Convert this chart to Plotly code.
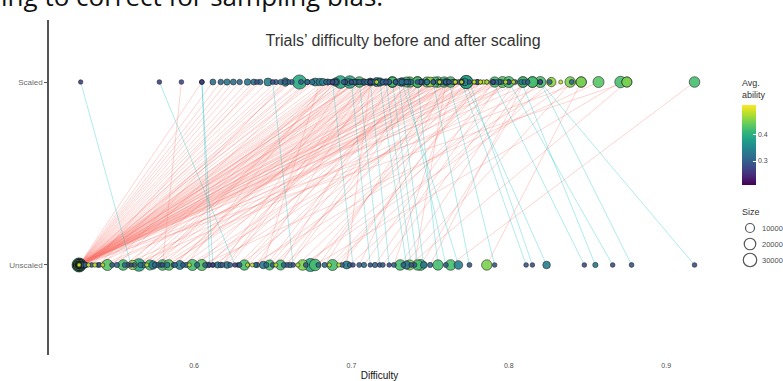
import plotly.graph_objects as go

# ---------------- data (one entry per trial) ----------------
unscaled = [
    # trials at the minimum unscaled difficulty (fan)
    0.527, 0.527, 0.527, 0.527, 0.527, 0.527, 0.527, 0.527, 0.527, 0.527,
    0.527, 0.527, 0.527, 0.527, 0.527, 0.527, 0.527, 0.527, 0.527, 0.527,
    0.527, 0.527, 0.527, 0.527, 0.527, 0.527, 0.527, 0.527, 0.527, 0.527,
    0.527, 0.527, 0.527, 0.527, 0.527, 0.527, 0.527, 0.527, 0.527, 0.527,
    0.527, 0.527, 0.527, 0.527, 0.527, 0.527,
    0.527, 0.527, 0.527, 0.527, 0.527, 0.527, 0.527, 0.527, 0.527, 0.527,
    0.529, 0.529, 0.529, 0.529, 0.529, 0.529, 0.530, 0.530, 0.530, 0.531, 0.531, 0.531,
    0.533, 0.535, 0.537, 0.539, 0.542, 0.540,
    0.545, 0.555, 0.561, 0.565, 0.572, 0.574, 0.580, 0.584, 0.591, 0.599,
    0.605, 0.615, 0.621, 0.626, 0.632, 0.637, 0.644, 0.648, 0.655, 0.663,
    0.669, 0.674, 0.677, 0.688, 0.697, 0.701, 0.712, 0.718, 0.724, 0.731,
    0.735, 0.737, 0.744, 0.755, 0.763, 0.768, 0.775, 0.786, 0.791, 0.811,
    0.815, 0.824, 0.848, 0.855, 0.866, 0.878, 0.918,
    0.560, 0.580, 0.610, 0.612,
    0.548, 0.551, 0.558, 0.568, 0.577, 0.587, 0.595, 0.609, 0.618, 0.628,
    0.640, 0.652, 0.659, 0.666, 0.683, 0.692, 0.705, 0.715, 0.727, 0.740,
    0.750, 0.760, 0.742, 0.746, 0.738,
    0.556, 0.562, 0.566, 0.570, 0.575, 0.579, 0.583, 0.588, 0.593, 0.597,
    0.602, 0.607, 0.612, 0.617, 0.623, 0.629, 0.634, 0.639, 0.646, 0.650,
    0.657, 0.661, 0.671, 0.679, 0.686, 0.694, 0.699, 0.708, 0.720, 0.733,
]
scaled = [
    0.612, 0.617, 0.621, 0.625, 0.629, 0.634, 0.638, 0.642, 0.647, 0.652,
    0.658, 0.667, 0.672, 0.677, 0.682, 0.688, 0.693, 0.698, 0.705, 0.712,
    0.715, 0.718, 0.726, 0.732, 0.742, 0.750, 0.753, 0.759, 0.766, 0.773,
    0.782, 0.786, 0.791, 0.809, 0.846, 0.875, 0.700, 0.708, 0.736, 0.745,
    0.662, 0.690, 0.722, 0.760, 0.778, 0.605,
    0.696, 0.704, 0.714, 0.724, 0.734, 0.744, 0.756, 0.768, 0.780, 0.794,
    0.655, 0.675, 0.710, 0.728, 0.748, 0.765, 0.685, 0.703, 0.738, 0.755, 0.668, 0.720,
    0.770, 0.640, 0.784, 0.660, 0.803, 0.695,
    0.796, 0.815, 0.827, 0.699, 0.735, 0.690, 0.763, 0.755, 0.716, 0.800,
    0.857, 0.720, 0.708, 0.578, 0.737, 0.833, 0.680, 0.748, 0.726, 0.650,
    0.839, 0.773, 0.871, 0.820, 0.712, 0.688, 0.700, 0.705, 0.712, 0.809,
    0.718, 0.875, 0.815, 0.742, 0.918, 0.732, 0.752, 0.846, 0.762, 0.770,
    0.775, 0.772, 0.790, 0.808, 0.800, 0.820, 0.820,
    0.528, 0.592, 0.605, 0.605,
    0.658, 0.672, 0.686, 0.702, 0.690, 0.712, 0.684, 0.732, 0.696, 0.742,
    0.713, 0.766, 0.744, 0.786, 0.757, 0.782, 0.760, 0.795, 0.766, 0.760,
    0.810, 0.735, 0.726, 0.730, 0.722,
    0.702, 0.688, 0.744, 0.716, 0.760, 0.728, 0.770, 0.706, 0.752, 0.778,
    0.724, 0.762, 0.790, 0.745, 0.712, 0.780, 0.756, 0.800, 0.736, 0.770,
    0.792, 0.748, 0.812, 0.764, 0.798, 0.780, 0.826, 0.790, 0.804, 0.840,
]
ability = [
    0.32, 0.31, 0.33, 0.32, 0.31, 0.33, 0.32, 0.31, 0.34, 0.30,
    0.34, 0.39, 0.30, 0.34, 0.34, 0.32, 0.39, 0.34, 0.42, 0.33,
    0.32, 0.33, 0.42, 0.34, 0.42, 0.46, 0.42, 0.42, 0.48, 0.37,
    0.48, 0.47, 0.42, 0.42, 0.42, 0.43, 0.31, 0.32, 0.33, 0.30,
    0.31, 0.33, 0.34, 0.35, 0.48, 0.28,
    0.31, 0.32, 0.30, 0.31, 0.33, 0.32, 0.31, 0.30, 0.32, 0.31,
    0.31, 0.32, 0.31, 0.30, 0.32, 0.31, 0.33, 0.32, 0.31, 0.32, 0.30, 0.31,
    0.48, 0.29, 0.48, 0.30, 0.48, 0.29,
    0.43, 0.42, 0.46, 0.39, 0.42, 0.34, 0.42, 0.43, 0.34, 0.42,
    0.43, 0.33, 0.33, 0.27, 0.42, 0.48, 0.33, 0.42, 0.42, 0.28,
    0.45, 0.39, 0.42, 0.42, 0.34, 0.28, 0.28, 0.29, 0.28, 0.42,
    0.33, 0.45, 0.42, 0.42, 0.42, 0.34, 0.29, 0.45, 0.29, 0.29,
    0.28, 0.34, 0.28, 0.33, 0.28, 0.29, 0.28,
    0.27, 0.28, 0.27, 0.27,
    0.30, 0.31, 0.30, 0.32, 0.31, 0.30, 0.31, 0.32, 0.30, 0.29,
    0.31, 0.48, 0.30, 0.47, 0.31, 0.48, 0.30, 0.31, 0.30, 0.30,
    0.31, 0.30, 0.42, 0.33, 0.29,
    0.31, 0.30, 0.32, 0.48, 0.31, 0.30, 0.33, 0.31, 0.30, 0.48,
    0.32, 0.31, 0.30, 0.33, 0.31, 0.30, 0.48, 0.31, 0.32, 0.30,
    0.31, 0.33, 0.30, 0.31, 0.48, 0.30, 0.31, 0.32, 0.30, 0.31,
]
n_obs = [
    2500, 2000, 3000, 2500, 1800, 3500, 2500, 2000, 7000, 1500,
    8000, 34000, 1500, 7000, 5000, 2500, 26000, 5000, 16000, 4000,
    2500, 4000, 16000, 6000, 18000, 13000, 14000, 15000, 600, 28000,
    500, 700, 15000, 16000, 15000, 14000, 1500, 2000, 3000, 1500,
    1500, 3000, 4000, 5000, 400, 800,
    1200, 1500, 1000, 1200, 2000, 1500, 1200, 1000, 1500, 1200,
    1500, 2000, 1500, 1200, 2000, 1500, 3000, 2500, 1500, 2000, 1200, 1500,
    500, 1000, 600, 1200, 500, 1000,
    18000, 16000, 11000, 25000, 14000, 8000, 16000, 16000, 10000, 18000,
    18000, 3000, 4000, 900, 15000, 400, 6000, 14000, 14000, 1000,
    16000, 28000, 20000, 18000, 7000, 900, 800, 1000, 800, 16000,
    8000, 14000, 17000, 15000, 16000, 9000, 1200, 15000, 900, 900,
    800, 6000, 900, 1500, 900, 1000, 900,
    700, 900, 800, 800,
    1200, 1500, 1200, 2000, 1500, 1200, 1500, 2000, 1200, 1000,
    1500, 500, 1200, 600, 1500, 500, 1200, 1500, 1200, 1200,
    1500, 1200, 15000, 4000, 1000,
    1200, 1000, 1500, 500, 1200, 1000, 2000, 1200, 1000, 500,
    1500, 1200, 1000, 2000, 1200, 1000, 500, 1200, 1500, 1000,
    1200, 2000, 1000, 1200, 500, 1000, 1200, 1500, 1000, 1200,
]
row_labels = ["Unscaled", "Scaled"]
x_ticks = [0.6, 0.7, 0.8, 0.9]
x_tick_labels = ["0.6", "0.7", "0.8", "0.9"]
cbar_ticks = [0.3, 0.4]
size_breaks = [10000, 20000, 30000]

assert len(unscaled) == len(scaled) == len(ability) == len(n_obs)
N = len(unscaled)


def diam(n):
    # area-like size scale (px diameter)
    return 2.85 + 0.0615 * n ** 0.5


# ---------------- geometry helpers ----------------
L, R, T, B = 49, 73, 20, 26
W, H = 783, 381
PW, PH = W - L - R, H - T - B


def px_x(px):
    return (px - L) / PW


def px_y(py):
    return (H - B - py) / PH


fig = go.Figure()

# connecting lines
red_x, red_y, cy_x, cy_y = [], [], [], []
for u, s in zip(unscaled, scaled):
    if s > u:
        red_x += [u, s, None]
        red_y += [0, 1, None]
    else:
        cy_x += [u, s, None]
        cy_y += [0, 1, None]

fig.add_trace(go.Scatter(x=red_x, y=red_y, mode="lines",
                         line=dict(color="rgba(248,118,109,0.34)", width=0.9),
                         hoverinfo="skip", showlegend=False))
fig.add_trace(go.Scatter(x=cy_x, y=cy_y, mode="lines",
                         line=dict(color="rgba(0,191,196,0.4)", width=0.8),
                         hoverinfo="skip", showlegend=False))

# points for both rows, big ones drawn first
pts = [(unscaled[i], 0, ability[i], n_obs[i]) for i in range(N)] + \
      [(scaled[i], 1, ability[i], n_obs[i]) for i in range(N)]
pts.sort(key=lambda p: -p[3])

cmin, cmax = 0.21, 0.51
fig.add_trace(go.Scatter(
    x=[p[0] for p in pts], y=[p[1] for p in pts], mode="markers",
    marker=dict(size=[diam(p[3]) for p in pts],
                color=[p[2] for p in pts],
                colorscale="Viridis", cmin=cmin, cmax=cmax,
                opacity=0.9,
                line=dict(color="rgba(25,25,25,0.9)", width=0.7),
                colorbar=dict(x=px_x(742), xanchor="left", xpad=0,
                              y=px_y(145), yanchor="middle", ypad=0,
                              len=80, lenmode="pixels", thickness=14,
                              outlinewidth=0, tickvals=cbar_ticks,
                              ticks="inside", tickcolor="white", ticklen=3,
                              tickfont=dict(size=7, color="#4d4d4d"))),
    hoverinfo="skip", showlegend=False))

# size legend drawn as reference circles
for i, b in enumerate(size_breaks):
    cy = [228, 244, 260][i]
    d = diam(b)
    fig.add_shape(type="circle", xref="paper", yref="paper",
                  xsizemode="pixel", ysizemode="pixel",
                  xanchor=px_x(750), yanchor=px_y(cy),
                  x0=-d / 2, x1=d / 2, y0=-d / 2, y1=d / 2,
                  line=dict(color="#555555", width=1.2), fillcolor="rgba(0,0,0,0)")
    fig.add_annotation(x=px_x(760), y=px_y(cy), xref="paper", yref="paper",
                       text=str(b), showarrow=False, xanchor="left", yanchor="middle",
                       font=dict(size=7.5, color="#4d4d4d"))

fig.add_annotation(x=px_x(740), y=px_y(212), xref="paper", yref="paper",
                   text="Size", showarrow=False, xanchor="left", yanchor="middle",
                   font=dict(size=9, color="#333333"))
fig.add_annotation(x=px_x(740), y=px_y(102), xref="paper", yref="paper",
                   text="Avg.<br>ability", showarrow=False, xanchor="left",
                   yanchor="bottom", align="left",
                   font=dict(size=9, color="#333333"))

# cropped document text above the figure
fig.add_annotation(x=px_x(-1), y=px_y(16), xref="paper", yref="paper",
                   text="ing to correct for sampling bias.", showarrow=False,
                   xanchor="left", yanchor="bottom",
                   font=dict(size=26, color="#111111", family="Open Sans"))

fig.update_layout(
    width=W, height=H,
    margin=dict(l=L, r=R, t=T, b=B),
    paper_bgcolor="white", plot_bgcolor="white",
    font=dict(family="Liberation Sans", color="#333333"),
    title=dict(text="Trials’ difficulty before and after scaling",
               x=px_x(403), xref="paper", xanchor="center",
               y=1 - 40 / H, yref="container", yanchor="middle",
               font=dict(size=16, color="#333333",
                         family="Liberation Sans Narrow, Liberation Sans")),
    xaxis=dict(range=[0.5 + (L - 36.6) / 1574, 0.5 + (W - R - 36.6) / 1574],
               tickvals=x_ticks, ticktext=x_tick_labels,
               showgrid=False, zeroline=False, showline=False,
               ticks="outside", ticklen=4, tickcolor="rgba(0,0,0,0)",
               tickfont=dict(size=7, color="#4d4d4d"),
               title=dict(text="Difficulty", font=dict(size=10, color="#111111"), standoff=3),
               automargin=False),
    yaxis=dict(range=[-0.492, 1.339], tickvals=[0, 1], ticktext=row_labels,
               showgrid=False, zeroline=False, showline=True,
               linecolor="#555555", linewidth=1.5,
               ticks="outside", ticklen=3, tickcolor="#555555",
               tickfont=dict(size=8, color="#6d6d6d"), automargin=False),
)

fig.write_html("out.html", config={"displayModeBar": False},
               post_script="document.body.style.margin='0';document.body.style.overflow='hidden';")
